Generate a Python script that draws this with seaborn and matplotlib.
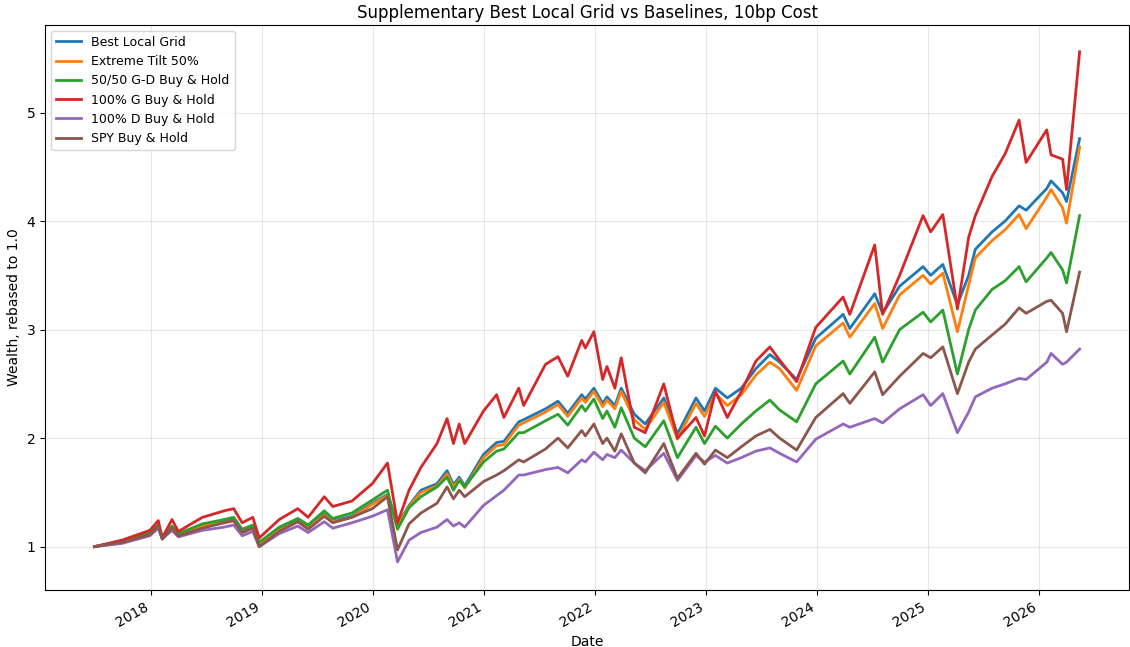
import pandas as pd
import seaborn as sns
import matplotlib.pyplot as plt
import matplotlib.dates as mdates

# sample dates (roughly monthly, extra points at turning points)
dates = [
    "2017-06-30", "2017-09-29", "2017-12-29", "2018-01-26", "2018-02-08", "2018-03-12",
    "2018-04-02", "2018-06-20", "2018-08-31", "2018-10-01", "2018-10-29", "2018-12-03",
    "2018-12-24", "2019-02-28", "2019-04-30", "2019-06-03", "2019-07-26", "2019-08-23",
    "2019-10-25", "2019-12-31", "2020-02-19", "2020-03-23", "2020-04-30", "2020-06-08",
    "2020-07-31", "2020-09-02", "2020-09-23", "2020-10-12", "2020-10-30", "2020-12-31",
    "2021-02-12", "2021-03-08", "2021-04-26", "2021-05-12", "2021-07-23", "2021-09-02",
    "2021-10-04", "2021-11-19", "2021-12-01", "2021-12-29", "2022-01-27", "2022-02-10",
    "2022-03-08", "2022-03-29", "2022-05-11", "2022-06-16", "2022-08-16", "2022-09-30",
    "2022-11-30", "2022-12-28", "2023-02-02", "2023-03-13", "2023-04-28", "2023-06-15",
    "2023-07-31", "2023-09-01", "2023-10-27", "2023-12-29", "2024-03-28", "2024-04-19",
    "2024-07-10", "2024-08-05", "2024-09-30", "2024-12-16", "2025-01-10", "2025-02-19",
    "2025-04-08", "2025-05-15", "2025-06-06", "2025-07-31", "2025-09-12", "2025-10-28",
    "2025-11-20", "2026-01-27", "2026-02-10", "2026-03-20", "2026-04-02", "2026-05-15",
]

best_local_grid = [
    1.00, 1.05, 1.12, 1.19, 1.09, 1.18, 1.11, 1.20, 1.23, 1.25, 1.14, 1.18,
    1.03, 1.16, 1.24, 1.18, 1.30, 1.24, 1.28, 1.40, 1.48, 1.20, 1.38, 1.52,
    1.58, 1.70, 1.57, 1.64, 1.56, 1.85, 1.96, 1.97, 2.15, 2.17, 2.27, 2.34,
    2.23, 2.40, 2.36, 2.46, 2.32, 2.38, 2.30, 2.46, 2.22, 2.13, 2.37, 2.04,
    2.37, 2.25, 2.46, 2.37, 2.46, 2.64, 2.77, 2.70, 2.54, 2.92, 3.14, 3.01,
    3.33, 3.15, 3.40, 3.58, 3.50, 3.60, 3.23, 3.50, 3.74, 3.90, 4.00, 4.14,
    4.10, 4.30, 4.37, 4.26, 4.18, 4.76,
]
extreme_tilt = [
    1.00, 1.05, 1.12, 1.18, 1.08, 1.17, 1.10, 1.19, 1.22, 1.24, 1.13, 1.17,
    1.02, 1.15, 1.23, 1.17, 1.29, 1.23, 1.27, 1.39, 1.47, 1.19, 1.37, 1.50,
    1.56, 1.67, 1.55, 1.62, 1.54, 1.82, 1.93, 1.94, 2.12, 2.14, 2.24, 2.31,
    2.20, 2.37, 2.33, 2.43, 2.29, 2.35, 2.27, 2.43, 2.17, 2.08, 2.33, 1.99,
    2.32, 2.20, 2.41, 2.30, 2.40, 2.58, 2.70, 2.64, 2.44, 2.85, 3.06, 2.93,
    3.24, 3.01, 3.32, 3.50, 3.42, 3.52, 2.98, 3.41, 3.66, 3.82, 3.92, 4.06,
    3.93, 4.22, 4.29, 4.12, 3.98, 4.68,
]
gd_5050 = [
    1.00, 1.05, 1.13, 1.20, 1.09, 1.19, 1.12, 1.21, 1.25, 1.27, 1.16, 1.20,
    1.04, 1.18, 1.26, 1.20, 1.33, 1.26, 1.31, 1.43, 1.52, 1.16, 1.36, 1.46,
    1.55, 1.64, 1.52, 1.61, 1.55, 1.78, 1.88, 1.90, 2.05, 2.05, 2.16, 2.22,
    2.12, 2.30, 2.25, 2.36, 2.18, 2.25, 2.10, 2.28, 2.00, 1.92, 2.16, 1.82,
    2.10, 1.95, 2.11, 2.00, 2.13, 2.25, 2.35, 2.26, 2.15, 2.50, 2.71, 2.59,
    2.93, 2.70, 3.00, 3.16, 3.07, 3.18, 2.59, 3.00, 3.18, 3.37, 3.45, 3.58,
    3.44, 3.66, 3.71, 3.55, 3.43, 4.05,
]
g_only = [
    1.00, 1.06, 1.15, 1.24, 1.08, 1.25, 1.14, 1.27, 1.33, 1.35, 1.22, 1.27,
    1.08, 1.25, 1.35, 1.27, 1.46, 1.37, 1.42, 1.58, 1.77, 1.22, 1.52, 1.73,
    1.95, 2.18, 1.95, 2.13, 1.95, 2.25, 2.40, 2.19, 2.46, 2.30, 2.68, 2.75,
    2.57, 2.90, 2.83, 2.98, 2.54, 2.66, 2.46, 2.74, 2.10, 2.05, 2.50, 2.00,
    2.19, 2.02, 2.43, 2.19, 2.43, 2.71, 2.84, 2.72, 2.52, 3.02, 3.30, 3.14,
    3.78, 3.14, 3.50, 4.05, 3.90, 4.06, 3.19, 3.85, 4.05, 4.41, 4.62, 4.93,
    4.54, 4.84, 4.61, 4.57, 4.29, 5.56,
]
d_only = [
    1.00, 1.03, 1.10, 1.17, 1.07, 1.15, 1.09, 1.15, 1.18, 1.20, 1.10, 1.14,
    1.00, 1.12, 1.19, 1.13, 1.23, 1.17, 1.22, 1.28, 1.34, 0.86, 1.06, 1.13,
    1.18, 1.25, 1.19, 1.22, 1.18, 1.38, 1.47, 1.52, 1.66, 1.66, 1.71, 1.73,
    1.68, 1.80, 1.78, 1.87, 1.80, 1.85, 1.82, 1.89, 1.77, 1.70, 1.86, 1.61,
    1.84, 1.78, 1.84, 1.77, 1.82, 1.88, 1.91, 1.86, 1.78, 1.99, 2.13, 2.10,
    2.18, 2.14, 2.27, 2.40, 2.30, 2.41, 2.05, 2.24, 2.38, 2.46, 2.50, 2.55,
    2.54, 2.70, 2.78, 2.68, 2.70, 2.82,
]
spy = [
    1.00, 1.04, 1.11, 1.19, 1.07, 1.17, 1.10, 1.17, 1.22, 1.24, 1.13, 1.17,
    1.00, 1.14, 1.23, 1.16, 1.28, 1.22, 1.27, 1.35, 1.46, 0.97, 1.21, 1.31,
    1.40, 1.55, 1.44, 1.52, 1.46, 1.60, 1.66, 1.70, 1.80, 1.78, 1.90, 2.00,
    1.91, 2.07, 2.02, 2.13, 1.95, 2.00, 1.88, 2.04, 1.77, 1.68, 1.95, 1.63,
    1.86, 1.76, 1.89, 1.82, 1.92, 2.02, 2.08, 2.00, 1.89, 2.19, 2.41, 2.32,
    2.61, 2.40, 2.57, 2.78, 2.74, 2.84, 2.41, 2.70, 2.82, 2.95, 3.05, 3.20,
    3.15, 3.26, 3.27, 3.15, 2.98, 3.53,
]

series = {
    "Best Local Grid": best_local_grid,
    "Extreme Tilt 50%": extreme_tilt,
    "50/50 G-D Buy & Hold": gd_5050,
    "100% G Buy & Hold": g_only,
    "100% D Buy & Hold": d_only,
    "SPY Buy & Hold": spy,
}

frames = []
for name, vals in series.items():
    frames.append(pd.DataFrame({"Date": pd.to_datetime(dates), "Wealth": vals, "Strategy": name}))
df = pd.concat(frames, ignore_index=True)

fig, ax = plt.subplots(figsize=(11.3, 6.47), dpi=100)
sns.lineplot(data=df, x="Date", y="Wealth", hue="Strategy", palette="tab10",
             linewidth=2, ax=ax)

ax.set_title("Supplementary Best Local Grid vs Baselines, 10bp Cost", fontsize=12, pad=5)
ax.set_xlabel("Date")
ax.set_ylabel("Wealth, rebased to 1.0")
ax.set_ylim(0.6, 5.81)
ax.xaxis.set_major_locator(mdates.YearLocator())
ax.xaxis.set_major_formatter(mdates.DateFormatter("%Y"))
ax.grid(True, alpha=0.3)
ax.legend(loc="upper left", title=None, fontsize=9)
fig.autofmt_xdate()

fig.subplots_adjust(left=0.040, right=0.999, top=0.962, bottom=0.088)
plt.savefig("out.png")
plt.close()
